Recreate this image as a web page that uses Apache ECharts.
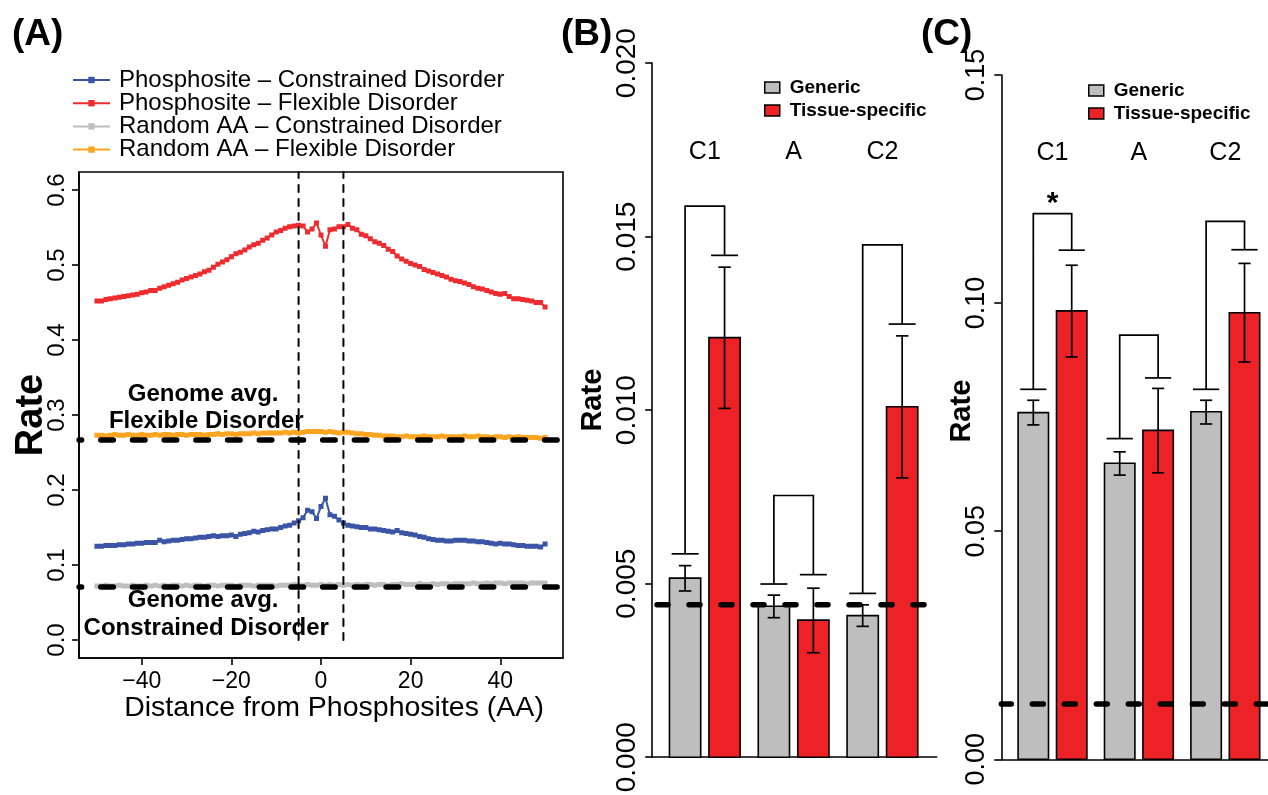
<!DOCTYPE html>
<html><head><meta charset="utf-8">
<script src="https://cdn.jsdelivr.net/npm/echarts@6/dist/echarts.min.js"></script>
<style>html,body{margin:0;padding:0;background:#fff}#c{width:1268px;height:795px}</style>
</head><body><div id="c"></div>
<script>
// ---------- Panel A data ----------
const distances = [-50,-49,-48,-47,-46,-45,-44,-43,-42,-41,-40,-39,-38,-37,-36,-35,-34,-33,-32,-31,-30,-29,-28,-27,-26,-25,-24,-23,-22,-21,-20,-19,-18,-17,-16,-15,-14,-13,-12,-11,-10,-9,-8,-7,-6,-5,-4,-3,-2,-1,0,1,2,3,4,5,6,7,8,9,10,11,12,13,14,15,16,17,18,19,20,21,22,23,24,25,26,27,28,29,30,31,32,33,34,35,36,37,38,39,40,41,42,43,44,45,46,47,48,49,50];
const phosConstrained = [.125,.125,.126,.126,.126,.127,.127,.128,.128,.129,.129,.130,.130,.130,.133,.131,.132,.133,.133,.134,.135,.135,.136,.137,.137,.138,.139,.138,.139,.139,.140,.138,.141,.142,.143,.145,.144,.146,.147,.148,.148,.150,.152,.153,.156,.159,.163,.173,.171,.162,.178,.189,.167,.165,.160,.156,.153,.152,.151,.150,.150,.148,.148,.147,.146,.145,.144,.146,.143,.142,.141,.140,.138,.137,.135,.134,.133,.133,.132,.132,.133,.133,.133,.132,.132,.131,.131,.130,.129,.128,.129,.128,.128,.127,.126,.126,.125,.125,.125,.124,.128];
const phosFlexible = [.452,.452,.454,.455,.456,.457,.458,.459,.460,.461,.463,.464,.466,.466,.469,.471,.473,.475,.477,.480,.482,.484,.486,.488,.491,.493,.497,.501,.504,.507,.511,.515,.517,.520,.524,.527,.529,.533,.536,.540,.544,.546,.549,.551,.552,.553,.552,.544,.548,.556,.540,.525,.547,.548,.551,.551,.554,.549,.547,.541,.539,.535,.531,.529,.526,.521,.518,.512,.508,.505,.502,.500,.498,.494,.492,.490,.488,.486,.484,.481,.479,.478,.476,.474,.471,.469,.468,.466,.464,.462,.461,.462,.458,.455,.455,.454,.453,.452,.450,.450,.444];
const randomConstrained = [.072,.072,.073,.072,.072,.073,.072,.072,.073,.072,.072,.073,.072,.073,.072,.073,.072,.073,.073,.072,.073,.072,.073,.073,.072,.073,.073,.072,.073,.073,.073,.072,.073,.073,.073,.072,.073,.073,.073,.073,.072,.073,.073,.073,.074,.073,.073,.074,.073,.073,.074,.073,.074,.073,.074,.073,.074,.073,.074,.073,.074,.074,.073,.074,.074,.073,.074,.074,.075,.074,.074,.074,.075,.074,.074,.075,.074,.075,.075,.074,.075,.075,.075,.075,.076,.075,.075,.076,.075,.076,.076,.075,.076,.076,.076,.076,.075,.076,.076,.076,.076];
const randomFlexible = [.273,.273,.272,.273,.274,.273,.273,.274,.273,.273,.274,.273,.273,.274,.273,.274,.274,.273,.274,.274,.273,.274,.274,.274,.273,.274,.274,.275,.274,.275,.275,.274,.275,.275,.275,.276,.275,.276,.276,.276,.276,.276,.277,.276,.277,.276,.277,.278,.278,.278,.278,.277,.278,.277,.276,.277,.277,.276,.275,.275,.274,.274,.273,.273,.272,.272,.272,.271,.271,.272,.271,.271,.271,.272,.271,.271,.271,.272,.271,.271,.271,.271,.272,.271,.271,.272,.271,.271,.270,.271,.271,.270,.271,.270,.271,.270,.270,.270,.270,.269,.270];
const genomeAvgFlexible = 0.2667;
const genomeAvgConstrained = 0.0707;
const windowEdges = [-5, 5];
const seriesNamesA = ['Phosphosite \u2013 Constrained Disorder','Phosphosite \u2013 Flexible Disorder','Random AA \u2013 Constrained Disorder','Random AA \u2013 Flexible Disorder'];
const xTicksA = [-40, -20, 0, 20, 40];
const yTicksA = [0, 0.1, 0.2, 0.3, 0.4, 0.5, 0.6];
const annotTextsA = ['Genome avg.', 'Flexible Disorder', 'Genome avg.', 'Constrained Disorder'];

// ---------- Panels B and C data ----------
const groups = ['C1', 'A', 'C2'];
const bGeneric = [0.00516, 0.00435, 0.00408];
const bTissue = [0.01209, 0.00395, 0.01010];
const bGenericLo = [0.00479, 0.00402, 0.00377];
const bGenericHi = [0.00552, 0.00467, 0.00439];
const bTissueLo = [0.01005, 0.00301, 0.00805];
const bTissueHi = [0.01412, 0.00487, 0.01214];
const bBracketLeft = [0.00586, 0.00499, 0.00472];
const bBracketRight = [0.01446, 0.00526, 0.01248];
const bBracketTop = [0.01588, 0.00754, 0.01476];
const bSignif = ['', '', ''];
const bGenomeAvg = 0.00439;

const cGeneric = [0.0760, 0.0649, 0.0762];
const cTissue = [0.0983, 0.0721, 0.0979];
const cGenericLo = [0.0733, 0.0623, 0.0735];
const cGenericHi = [0.0787, 0.0674, 0.0787];
const cTissueLo = [0.0882, 0.0628, 0.0871];
const cTissueHi = [0.1083, 0.0813, 0.1087];
const cBracketLeft = [0.0811, 0.0703, 0.0811];
const cBracketRight = [0.1116, 0.0836, 0.1117];
const cBracketTop = [0.1196, 0.0930, 0.1179];
const cSignif = ['*', '', ''];
const cGenomeAvg = 0.0121;

// ---------- styling / layout ----------
const FF = '"Liberation Sans", Arial, Helvetica, sans-serif';
const COLORS_A = ['#3B54A5', '#EE2B2E', '#BEBEBE', '#FDA521'];
const GRAY = '#BEBEBE', RED = '#EC2227';
const GEN_POS = i => 1 + 2.7 * i;   // bar centre (plot units) of Generic bar in group i
const TIS_POS = i => 2.2 + 2.7 * i; // bar centre of Tissue-specific bar
const X_MAX_B = 8.65, X_MAX_C = 8.334;

function pairs(xs, ys) { return xs.map((x, i) => [x, ys[i]]); }

function barItem(params, api) {
  const x = api.value(0), v = api.value(1);
  const a = api.coord([x - 0.475, v]);
  const b = api.coord([x + 0.475, 0]);
  return {type: 'rect', shape: {x: a[0], y: a[1], width: b[0] - a[0], height: b[1] - a[1]},
    style: {fill: api.visual('color'), stroke: '#000', lineWidth: 1.6}};
}
function errItem(params, api) {
  const x = api.value(0);
  const pl = api.coord([x, api.value(1)]), ph = api.coord([x, api.value(2)]);
  const w = api.size([0.19, 0])[0];
  const st = {stroke: '#000', lineWidth: 1.7};
  return {type: 'group', children: [
    {type: 'line', shape: {x1: pl[0], y1: pl[1], x2: ph[0], y2: ph[1]}, style: st},
    {type: 'line', shape: {x1: pl[0] - w, y1: pl[1], x2: pl[0] + w, y2: pl[1]}, style: st},
    {type: 'line', shape: {x1: ph[0] - w, y1: ph[1], x2: ph[0] + w, y2: ph[1]}, style: st}
  ]};
}
function bracketMaker(signif) {
  return function (params, api) {
    const xl = api.value(0), xr = api.value(1);
    const pL = api.coord([xl, api.value(2)]), pR = api.coord([xr, api.value(3)]);
    const tL = api.coord([xl, api.value(4)]), tR = api.coord([xr, api.value(4)]);
    const w = api.size([0.41, 0])[0];
    const st = {stroke: '#000', lineWidth: 1.7, fill: null};
    const kids = [
      {type: 'polyline', shape: {points: [pL, tL, tR, pR]}, style: st},
      {type: 'line', shape: {x1: pL[0] - w, y1: pL[1], x2: pL[0] + w, y2: pL[1]}, style: st},
      {type: 'line', shape: {x1: pR[0] - w, y1: pR[1], x2: pR[0] + w, y2: pR[1]}, style: st}
    ];
    const s = signif[params.dataIndex];
    if (s) kids.push({type: 'text', x: (tL[0] + tR[0]) / 2, y: tL[1] + 5,
      style: {text: s, fill: '#000', font: 'bold 30px ' + FF, align: 'center', verticalAlign: 'bottom'}});
    return {type: 'group', children: kids};
  };
}
function textMaker(texts, font) {
  return function (params, api) {
    const p = api.coord([api.value(0), api.value(1)]);
    return {type: 'text', x: p[0], y: p[1],
      style: {text: texts[params.dataIndex], fill: '#000', font: font, align: 'center', verticalAlign: 'middle'}};
  };
}
function dashLine(data, xi, yi, lw, dash, off, z) {
  return {type: 'line', xAxisIndex: xi, yAxisIndex: yi, data: data, symbol: 'none', silent: true,
    z: z || 5, lineStyle: {color: '#000', width: lw, type: dash, dashOffset: off, cap: 'round'}};
}

function barPanel(idx, gen, tis, gLo, gHi, tLo, tHi, bL, bR, bT, sig, avg, labelLevel, xMax, dashOff) {
  return [
    {type: 'custom', name: 'Generic', xAxisIndex: idx, yAxisIndex: idx, renderItem: barItem, z: 2,
      itemStyle: {color: GRAY}, data: gen.map((v, i) => [GEN_POS(i), v])},
    {type: 'custom', name: 'Tissue-specific', xAxisIndex: idx, yAxisIndex: idx, renderItem: barItem, z: 2,
      itemStyle: {color: RED}, data: tis.map((v, i) => [TIS_POS(i), v])},
    {type: 'custom', xAxisIndex: idx, yAxisIndex: idx, renderItem: errItem, z: 3, silent: true,
      data: gen.map((v, i) => [GEN_POS(i), gLo[i], gHi[i]]).concat(tis.map((v, i) => [TIS_POS(i), tLo[i], tHi[i]]))},
    {type: 'custom', xAxisIndex: idx, yAxisIndex: idx, renderItem: bracketMaker(sig), z: 3, silent: true,
      data: groups.map((g, i) => [GEN_POS(i), TIS_POS(i), bL[i], bR[i], bT[i]])},
    {type: 'custom', xAxisIndex: idx, yAxisIndex: idx, renderItem: textMaker(groups, '25px ' + FF), z: 3, silent: true,
      data: groups.map((g, i) => [(GEN_POS(i) + TIS_POS(i)) / 2, labelLevel])},
    dashLine([[0, avg], [xMax, avg]], idx, idx, 5.5, [11, 21], dashOff, 6)
  ];
}

const chart = echarts.init(document.getElementById('c'));
const axisLineStyle = {show: true, onZero: false, lineStyle: {color: '#000', width: 1.6}};
const tickStyle = {show: true, length: 7, lineStyle: {color: '#000', width: 1.6}};
const titleStyle = {fontSize: 37, fontWeight: 'bold', fontFamily: FF, color: '#000'};

const option = {
  animation: false,
  backgroundColor: '#fff',
  textStyle: {fontFamily: FF},
  title: [
    {text: '(A)', left: 7, top: 11, textStyle: titleStyle},
    {text: '(B)', left: 556, top: 11, textStyle: titleStyle},
    {text: '(C)', left: 916, top: 11, textStyle: titleStyle}
  ],
  legend: [
    {data: seriesNamesA, orient: 'vertical', left: 67, top: 63, itemWidth: 37, itemHeight: 8, itemGap: -0.8,
      textStyle: {fontSize: 24, lineHeight: 22.4, color: '#000', fontFamily: FF, padding: [0, 0, 0, 4]}, selectedMode: false},
    {data: ['Generic', 'Tissue-specific'], orient: 'vertical', left: 759, top: 73, icon: 'rect', itemWidth: 15, itemHeight: 11, itemGap: 4,
      itemStyle: {borderColor: '#000', borderWidth: 1.5},
      textStyle: {fontSize: 19, fontWeight: 'bold', lineHeight: 19, color: '#000', fontFamily: FF, padding: [0, 0, 0, 5]}, selectedMode: false},
    {data: ['Generic', 'Tissue-specific'], orient: 'vertical', left: 1083, top: 76, icon: 'rect', itemWidth: 15, itemHeight: 11, itemGap: 4,
      itemStyle: {borderColor: '#000', borderWidth: 1.5},
      textStyle: {fontSize: 19, fontWeight: 'bold', lineHeight: 19, color: '#000', fontFamily: FF, padding: [0, 0, 0, 5]}, selectedMode: false}
  ],
  grid: [
    {left: 79, top: 172, width: 484, height: 486, show: true, borderColor: '#000', borderWidth: 1.6,
      backgroundColor: 'transparent', outerBoundsMode: 'none'},
    {left: 652.2, top: 63.1, width: 284.5, height: 694.1, outerBoundsMode: 'none'},
    {left: 1001.3, top: 75, width: 266.7, height: 684.3, outerBoundsMode: 'none'}
  ],
  xAxis: [
    {gridIndex: 0, type: 'value', min: -54, max: 54, axisLine: axisLineStyle, splitLine: {show: false},
      axisTick: Object.assign({customValues: xTicksA}, tickStyle),
      axisLabel: {customValues: xTicksA, fontSize: 23, color: '#000', margin: 12, fontFamily: FF,
        formatter: v => (v < 0 ? '\u2212' + Math.abs(v) : String(v))},
      name: 'Distance from Phosphosites (AA)', nameLocation: 'middle', nameGap: 36, nameMoveOverlap: false,
      nameTextStyle: {fontSize: 28.5, color: '#000', fontFamily: FF, padding: [0, 0, 0, 26]}},
    {gridIndex: 1, type: 'value', min: 0, max: X_MAX_B, axisLine: axisLineStyle, axisTick: {show: false},
      axisLabel: {show: false}, splitLine: {show: false}},
    {gridIndex: 2, type: 'value', min: 0, max: X_MAX_C, axisLine: axisLineStyle, axisTick: {show: false},
      axisLabel: {show: false}, splitLine: {show: false}}
  ],
  yAxis: [
    {gridIndex: 0, type: 'value', min: -0.024, max: 0.624, axisLine: axisLineStyle, splitLine: {show: false},
      axisTick: Object.assign({customValues: yTicksA}, tickStyle),
      axisLabel: {customValues: yTicksA, rotate: 90, fontSize: 24, color: '#000', margin: 10, fontFamily: FF,
        formatter: v => v.toFixed(1)},
      name: 'Rate', nameLocation: 'middle', nameRotate: 90, nameGap: 28, nameMoveOverlap: false,
      nameTextStyle: {fontSize: 38, fontWeight: 'bold', color: '#000', fontFamily: FF}},
    {gridIndex: 1, type: 'value', min: 0, max: 0.02, interval: 0.005, axisLine: axisLineStyle, splitLine: {show: false},
      axisTick: tickStyle,
      axisLabel: {rotate: 90, fontSize: 28, color: '#000', margin: 11, fontFamily: FF, formatter: v => v.toFixed(3)},
      name: 'Rate', nameLocation: 'middle', nameRotate: 90, nameGap: 45, nameMoveOverlap: false,
      nameTextStyle: {fontSize: 29, fontWeight: 'bold', color: '#000', fontFamily: FF, padding: [0, 0, 0, 20]}},
    {gridIndex: 2, type: 'value', min: 0, max: 0.15, interval: 0.05, axisLine: axisLineStyle, splitLine: {show: false},
      axisTick: tickStyle,
      axisLabel: {rotate: 90, fontSize: 27, color: '#000', margin: 11, fontFamily: FF, formatter: v => v.toFixed(2)},
      name: 'Rate', nameLocation: 'middle', nameRotate: 90, nameGap: 25, nameMoveOverlap: false,
      nameTextStyle: {fontSize: 29, fontWeight: 'bold', color: '#000', fontFamily: FF, padding: [0, 0, 0, 12]}}
  ],
  series: [
    ...[phosConstrained, phosFlexible, randomConstrained, randomFlexible].map((arr, k) => ({
      type: 'line', name: seriesNamesA[k], xAxisIndex: 0, yAxisIndex: 0, data: pairs(distances, arr),
      symbol: 'rect', symbolSize: 5, showAllSymbol: true, z: 3,
      itemStyle: {color: COLORS_A[k]}, lineStyle: {color: COLORS_A[k], width: 2}})),
    dashLine([[-54, genomeAvgFlexible], [54, genomeAvgFlexible]], 0, 0, 5.3, [12.7, 19], 10, 6),
    dashLine([[-54, genomeAvgConstrained], [54, genomeAvgConstrained]], 0, 0, 5.3, [12.7, 19], 10, 6),
    dashLine([[windowEdges[0], 0], [windowEdges[0], 0.624]], 0, 0, 2, [7, 7], 0, 4),
    dashLine([[windowEdges[1], 0], [windowEdges[1], 0.624]], 0, 0, 2, [7, 7], 0, 4),
    {type: 'custom', xAxisIndex: 0, yAxisIndex: 0, renderItem: textMaker(annotTextsA, 'bold 24px ' + FF), z: 7, silent: true,
      data: [[-26.3, 0.327], [-25.6, 0.292], [-26.3, 0.053], [-25.6, 0.016]]},
    ...barPanel(1, bGeneric, bTissue, bGenericLo, bGenericHi, bTissueLo, bTissueHi,
      bBracketLeft, bBracketRight, bBracketTop, bSignif, bGenomeAvg, 0.01744, X_MAX_B, 27.2),
    ...barPanel(2, cGeneric, cTissue, cGenericLo, cGenericHi, cTissueLo, cTissueHi,
      cBracketLeft, cBracketRight, cBracketTop, cSignif, cGenomeAvg, 0.1328, X_MAX_C, 1)
  ]
};
chart.setOption(option);
</script></body></html>
